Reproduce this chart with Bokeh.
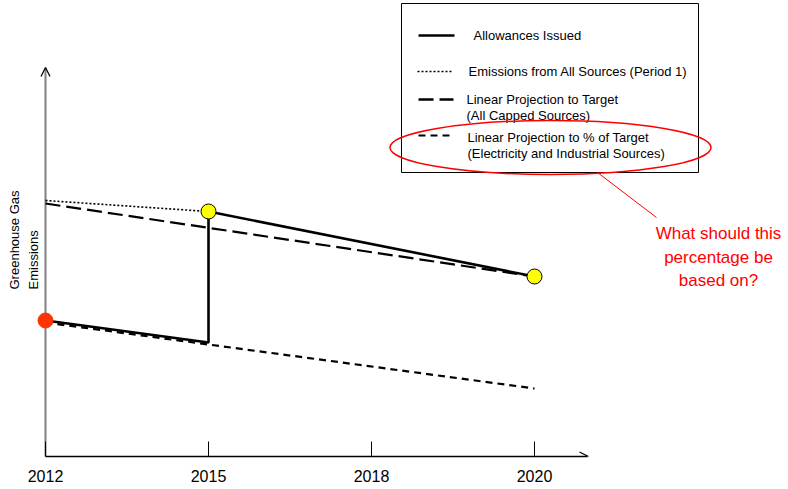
import math
from bokeh.plotting import figure
from bokeh.models import Range1d, FixedTicker, Arrow, OpenHead
from bokeh.core.properties import value
from bokeh.embed import file_html
from bokeh.resources import INLINE

# ---------------- data ----------------
tick_pos = [0, 1, 2, 3]
tick_labels = ["2012", "2015", "2018", "2020"]

# Allowances issued (period 1 decline, jump at 2015, period 2 decline)
allow_x = [0, 1, 1, 3]
allow_y = [136, 114, 245, 180]

# Emissions from all sources (period 1)
emis_x = [0, 1]
emis_y = [256, 245]

# Linear projection to target (all capped sources)
target_x = [0, 3]
target_y = [253, 180]

# Linear projection to % of target (electricity and industrial sources)
pct_x = [0, 3]
pct_y = [134, 68]

start_x = [0]
start_y = [136]
p2_x = [1, 3]
p2_y = [245, 180]

legend_labels = ["Allowances Issued",
                 "Emissions from All Sources (Period 1)",
                 "Linear Projection to Target",
                 "(All Capped Sources)",
                 "Linear Projection to % of Target",
                 "(Electricity and Industrial Sources)"]
question_lines = ["What should this", "percentage be", "based on?"]
ylabel_lines = ["Greenhouse Gas", "Emissions"]

# ---------------- layout ----------------
FONT = "Liberation Sans"
W, H = 788, 489
PX = 163.0          # pixels per tick step
ORIGIN_WX = 45      # window x of the y axis
ORIGIN_WY = 456     # window y of the x axis
BOTTOM = H - ORIGIN_WY


def X(wx):
    return (wx - ORIGIN_WX) / PX


def Y(wy):
    return ORIGIN_WY - wy


p = figure(width=W, height=H, output_backend="svg", toolbar_location=None,
           x_range=Range1d(X(0), X(W)), y_range=Range1d(0, Y(0)),
           min_border_left=0, min_border_right=0, min_border_top=0,
           min_border_bottom=BOTTOM)
p.grid.visible = False
p.outline_line_color = None
p.background_fill_color = "white"
p.border_fill_color = "white"
p.yaxis.visible = False

xa = p.xaxis[0]
xa.ticker = FixedTicker(ticks=tick_pos)
xa.major_label_overrides = {t: l for t, l in zip(tick_pos, tick_labels)}
xa.bounds = (0, X(587))
xa.axis_line_color = "black"
xa.axis_line_width = 1.3
xa.major_tick_in = 15
xa.major_tick_out = 0
xa.major_tick_line_color = "black"
xa.major_tick_line_width = 1
xa.minor_tick_line_color = None
xa.major_label_text_font = FONT
xa.major_label_text_font_size = "16px"
xa.major_label_text_color = "black"
xa.major_label_standoff = 13

# y axis line (drawn inside the frame so the start marker is not clipped)
p.segment(x0=[0], y0=[0], x1=[0], y1=[Y(68)], line_color="#808080", line_width=2)
p.add_layout(Arrow(end=OpenHead(size=9, line_color="black", line_width=1.3),
                   x_start=0, y_start=Y(78), x_end=0, y_end=Y(67), line_alpha=0))
p.add_layout(Arrow(end=OpenHead(size=9, line_color="black", line_width=1.3),
                   x_start=X(575), y_start=0, x_end=X(588), y_end=0, line_alpha=0))

# y label (rotated)
p.text(x=[X(14), X(33)], y=[Y(289), Y(289)], text=ylabel_lines, angle=math.pi / 2,
       text_align="left", text_baseline="middle", text_font=value(FONT),
       text_font_size="13px", text_color="black")

# ---------------- series ----------------
p.line(emis_x, emis_y, line_color="black", line_width=1.6, line_dash="2 2")
p.line(target_x, target_y, line_color="black", line_width=2.2, line_dash="15 6")
p.line(pct_x, pct_y, line_color="black", line_width=2.2, line_dash="7 5")
p.line(allow_x, allow_y, line_color="black", line_width=2.6)
p.scatter(start_x, start_y, size=15, fill_color="#ff3300", line_color="#ff3300")
p.scatter(p2_x, p2_y, size=15, fill_color="#ffff00", line_color="black", line_width=1)

# ---------------- legend box ----------------
p.quad(left=[X(401)], right=[X(698)], top=[Y(3)], bottom=[Y(172)],
       fill_color=None, line_color="black", line_width=1)
p.line([X(418), X(454)], [Y(35), Y(35)], line_color="black", line_width=2.6)
p.line([X(417), X(453)], [Y(71), Y(71)], line_color="black", line_width=1.6, line_dash="2 2")
p.line([X(418), X(453)], [Y(99), Y(99)], line_color="black", line_width=2.6, line_dash="15 6")
p.line([X(418), X(453)], [Y(135), Y(135)], line_color="black", line_width=2.2, line_dash="7 5")
p.text(x=[X(473), X(468), X(466), X(466), X(467), X(467)],
       y=[Y(35), Y(71), Y(99), Y(115), Y(137), Y(153)],
       text=legend_labels, text_align="left", text_baseline="middle",
       text_font=value(FONT), text_font_size="13px", text_color="black")

# ---------------- annotation ----------------
p.ellipse(x=[X(550)], y=[Y(147)], width=[321 / PX], height=[54],
          fill_color=None, line_color="#ff0000", line_width=1.5)
p.line([X(597), X(656)], [Y(172), Y(217)], line_color="#ff0000", line_width=1)
p.text(x=[X(718)] * 3, y=[Y(233), Y(257), Y(280)], text=question_lines,
       text_align="center", text_baseline="middle", text_font=value(FONT),
       text_font_size="17px", text_color="#ff0000")

open("out.html", "w").write(file_html(p, INLINE))
